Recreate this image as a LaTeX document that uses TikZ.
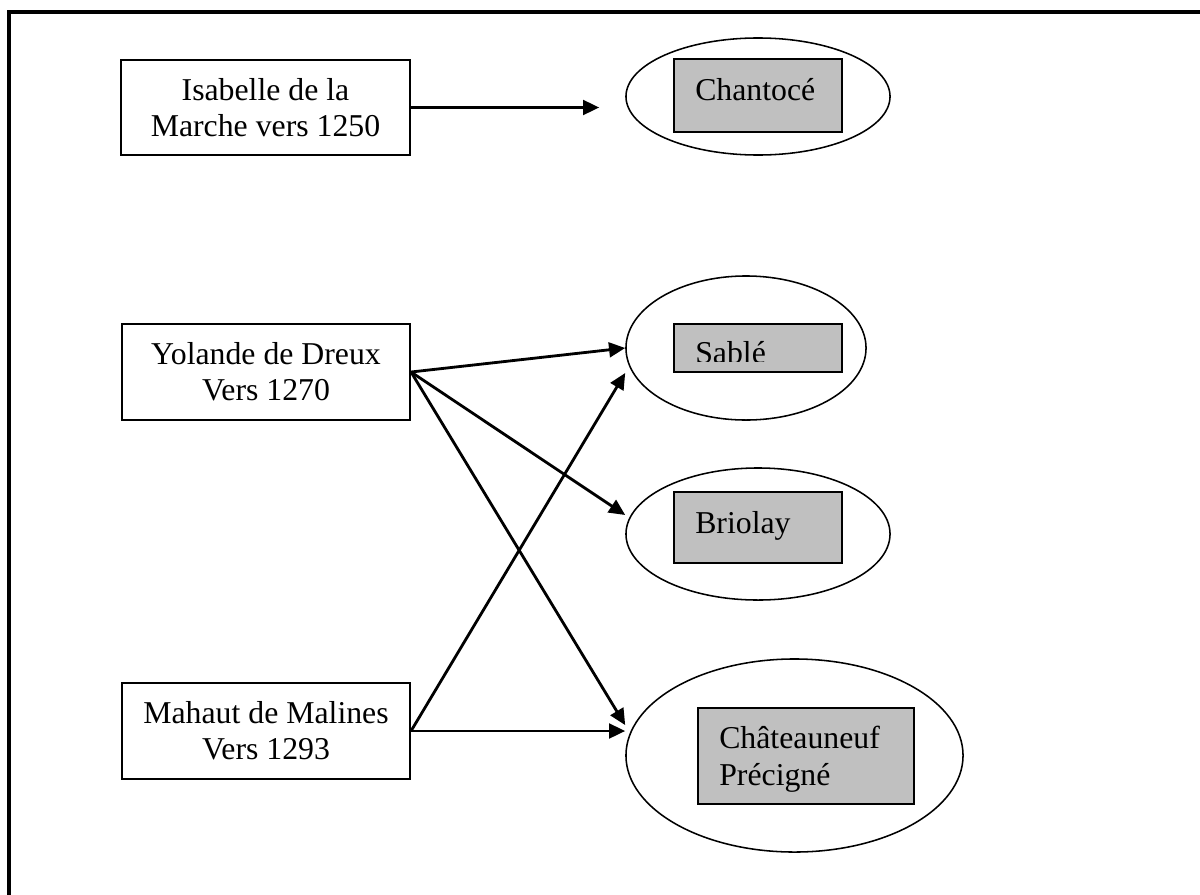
\documentclass[tikz,border=0pt]{standalone}
\usepackage{fontspec}
\setmainfont{Liberation Serif}
\usepackage{tikz}
\usetikzlibrary{shapes.geometric, arrows.meta, positioning, calc}
\definecolor{fiefgrey}{HTML}{C0C0C0}

\begin{document}
\begin{tikzpicture}[
    x=0.025cm, y=-0.025cm,
    lady/.style={draw, line width=1.4pt, inner sep=0pt,
                 minimum width=7.2cm, minimum height=2.4cm,
                 align=center, font=\fontsize{22.6}{25.6}\selectfont},
    fief/.style={draw, ellipse, line width=1.1pt, inner sep=0pt},
    seat/.style={draw, line width=1.3pt, fill=fiefgrey, inner sep=0pt, minimum width=4.2cm},
    seatname/.style={anchor=base west, inner sep=0pt, align=left,
                     font=\fontsize{22.6}{26.3}\selectfont},
    conn/.style={-{Triangle[length=11.5pt, width=10.5pt]}, line width=2pt},
]
    \useasboundingbox (0,0) rectangle (1200,894);
    \clip (0,0) rectangle (1200,894);

    % Frame
    \draw[line width=2.2pt] (9,12) rectangle (1230,930);

    % Row 1: Isabelle + Chantoce
    \node[lady, minimum width=7.225cm, minimum height=2.375cm] (isabelle) at (265.5,107.5)
        {Isabelle de la\\Marche vers 1250};
    \node[fief, minimum width=6.6cm, minimum height=2.925cm] (chantoce) at (758,96.5) {};
    \node[seat, minimum height=1.825cm] (chantocebox) at (758,95.5) {};
    \node[seatname] (chantocetxt) at (695,100) {Chantocé};

    % Row 2: Yolande + Sable / Briolay
    \node[lady] (yolande) at (266,372) {Yolande de Dreux\\Vers 1270};
    \node[fief, minimum width=6cm, minimum height=3.6cm] (sable) at (746,348) {};
    \node[seat, minimum height=1.2cm] (sablebox) at (758,348) {};
    \begin{scope}
        \clip (674,324) rectangle (842,361);
        \node[seatname] (sabletxt) at (695,363) {Sablé};
    \end{scope}
    \node[fief, minimum width=6.6cm, minimum height=3.3cm] (briolay) at (758,534) {};
    \node[seat, minimum height=1.775cm] (briolaybox) at (758,527.5) {};
    \node[seatname] (briolaytxt) at (695,533) {Briolay};

    % Row 3: Mahaut + Chateauneuf
    \node[lady] (mahaut) at (266,731) {Mahaut de Malines\\Vers 1293};
    \node[fief, minimum width=8.425cm, minimum height=4.825cm] (chateau) at (794.5,755.5) {};
    \node[seat, minimum width=5.4cm, minimum height=2.4cm] (chateaubox) at (806,756) {};
    \node[seatname] (chateautxt) at (719,785) {Châteauneuf\\Précigné};

    % Connections
    \draw[conn, shorten >=0.65cm] (isabelle.east) -- (isabelle.east -| chantoce.west);
    \draw[conn] (yolande.east) -- (sable.west);
    \draw[conn] (yolande.east) -- ([yshift=0.475cm]briolay.west);
    \draw[conn] (yolande.east) -- ([yshift=0.76cm]chateau.west);
    \draw[conn] (mahaut.east) -- (mahaut.east -| chateau.west);
    \draw[conn] (mahaut.east) -- ([yshift=-0.625cm]sable.west);
\end{tikzpicture}
\end{document}
